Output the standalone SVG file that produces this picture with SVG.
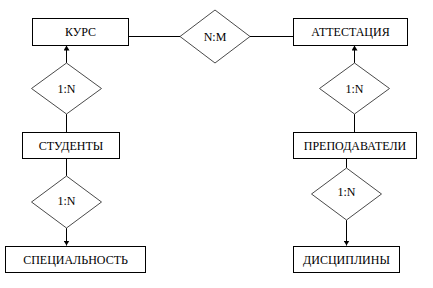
<svg xmlns="http://www.w3.org/2000/svg" width="433" height="288" viewBox="0 0 433 288">
<style>
.box{fill:#fff;stroke:#000;stroke-width:1}
.dia{fill:#fff;stroke:#4a4a4a;stroke-width:1}
.ln{stroke:#000;stroke-width:1;fill:none}
.t{font-family:'Liberation Serif','DejaVu Serif',serif;font-size:12px;fill:#000;text-anchor:middle}
</style>
<defs>
<marker id="ah" markerWidth="5" markerHeight="6" refX="5" refY="3" orient="auto" markerUnits="userSpaceOnUse">
<path d="M0,0 L5,3 L0,6 Z" fill="#000"/>
</marker>
</defs>
<g id="connectors">
<line class="ln" x1="128" y1="36.5" x2="180" y2="36.5"/>
<line class="ln" x1="250" y1="36.5" x2="293" y2="36.5"/>
<line class="ln" x1="66.5" y1="63" x2="66.5" y2="45.5" marker-end="url(#ah)"/>
<line class="ln" x1="66.5" y1="114" x2="66.5" y2="132"/>
<line class="ln" x1="66.5" y1="158" x2="66.5" y2="176"/>
<line class="ln" x1="66.5" y1="228" x2="66.5" y2="245.5" marker-end="url(#ah)"/>
<line class="ln" x1="354.5" y1="63" x2="354.5" y2="45.5" marker-end="url(#ah)"/>
<line class="ln" x1="354.5" y1="114" x2="354.5" y2="132"/>
<line class="ln" x1="346.5" y1="158" x2="346.5" y2="168"/>
<line class="ln" x1="346.5" y1="220" x2="346.5" y2="245.5" marker-end="url(#ah)"/>
</g>
<g id="kurs"><rect class="box" x="32.5" y="18.5" width="96" height="27"/><text class="t" font-family="Liberation Serif, serif" x="80.5" y="36">КУРС</text></g>
<g id="nm"><polygon class="dia" points="215,10 250,36.5 215,63 180,36.5"/><text class="t" font-family="Liberation Serif, serif" x="215" y="40.5">N:M</text></g>
<g id="attestaciya"><rect class="box" x="293.5" y="18.5" width="114" height="27"/><text class="t" font-family="Liberation Serif, serif" x="350.5" y="36">АТТЕСТАЦИЯ</text></g>
<g id="r1"><polygon class="dia" points="66.5,63 101.5,88.5 66.5,114 31.5,88.5"/><text class="t" font-family="Liberation Serif, serif" x="66.5" y="92.5">1:N</text></g>
<g id="r2"><polygon class="dia" points="354.5,63 389.5,88.5 354.5,114 319.5,88.5"/><text class="t" font-family="Liberation Serif, serif" x="354.5" y="92.5">1:N</text></g>
<g id="studenty"><rect class="box" x="22.5" y="132.5" width="97" height="26"/><text class="t" font-family="Liberation Serif, serif" x="71" y="149.5">СТУДЕНТЫ</text></g>
<g id="prepodavateli"><rect class="box" x="293.5" y="132.5" width="123" height="26"/><text class="t" font-family="Liberation Serif, serif" x="355" y="149.5">ПРЕПОДАВАТЕЛИ</text></g>
<g id="r3"><polygon class="dia" points="66.5,176 101.5,202 66.5,228 31.5,202"/><text class="t" font-family="Liberation Serif, serif" x="66.5" y="205">1:N</text></g>
<g id="r4"><polygon class="dia" points="346.5,168 381.5,194 346.5,220 311.5,194"/><text class="t" font-family="Liberation Serif, serif" x="346.5" y="196">1:N</text></g>
<g id="specialnost"><rect class="box" x="5.5" y="246.5" width="140" height="26"/><text class="t" font-family="Liberation Serif, serif" x="75.5" y="263.5">СПЕЦИАЛЬНОСТЬ</text></g>
<g id="discipliny"><rect class="box" x="293.5" y="246.5" width="106" height="26"/><text class="t" font-family="Liberation Serif, serif" x="346.5" y="263.5">ДИСЦИПЛИНЫ</text></g>
</svg>
